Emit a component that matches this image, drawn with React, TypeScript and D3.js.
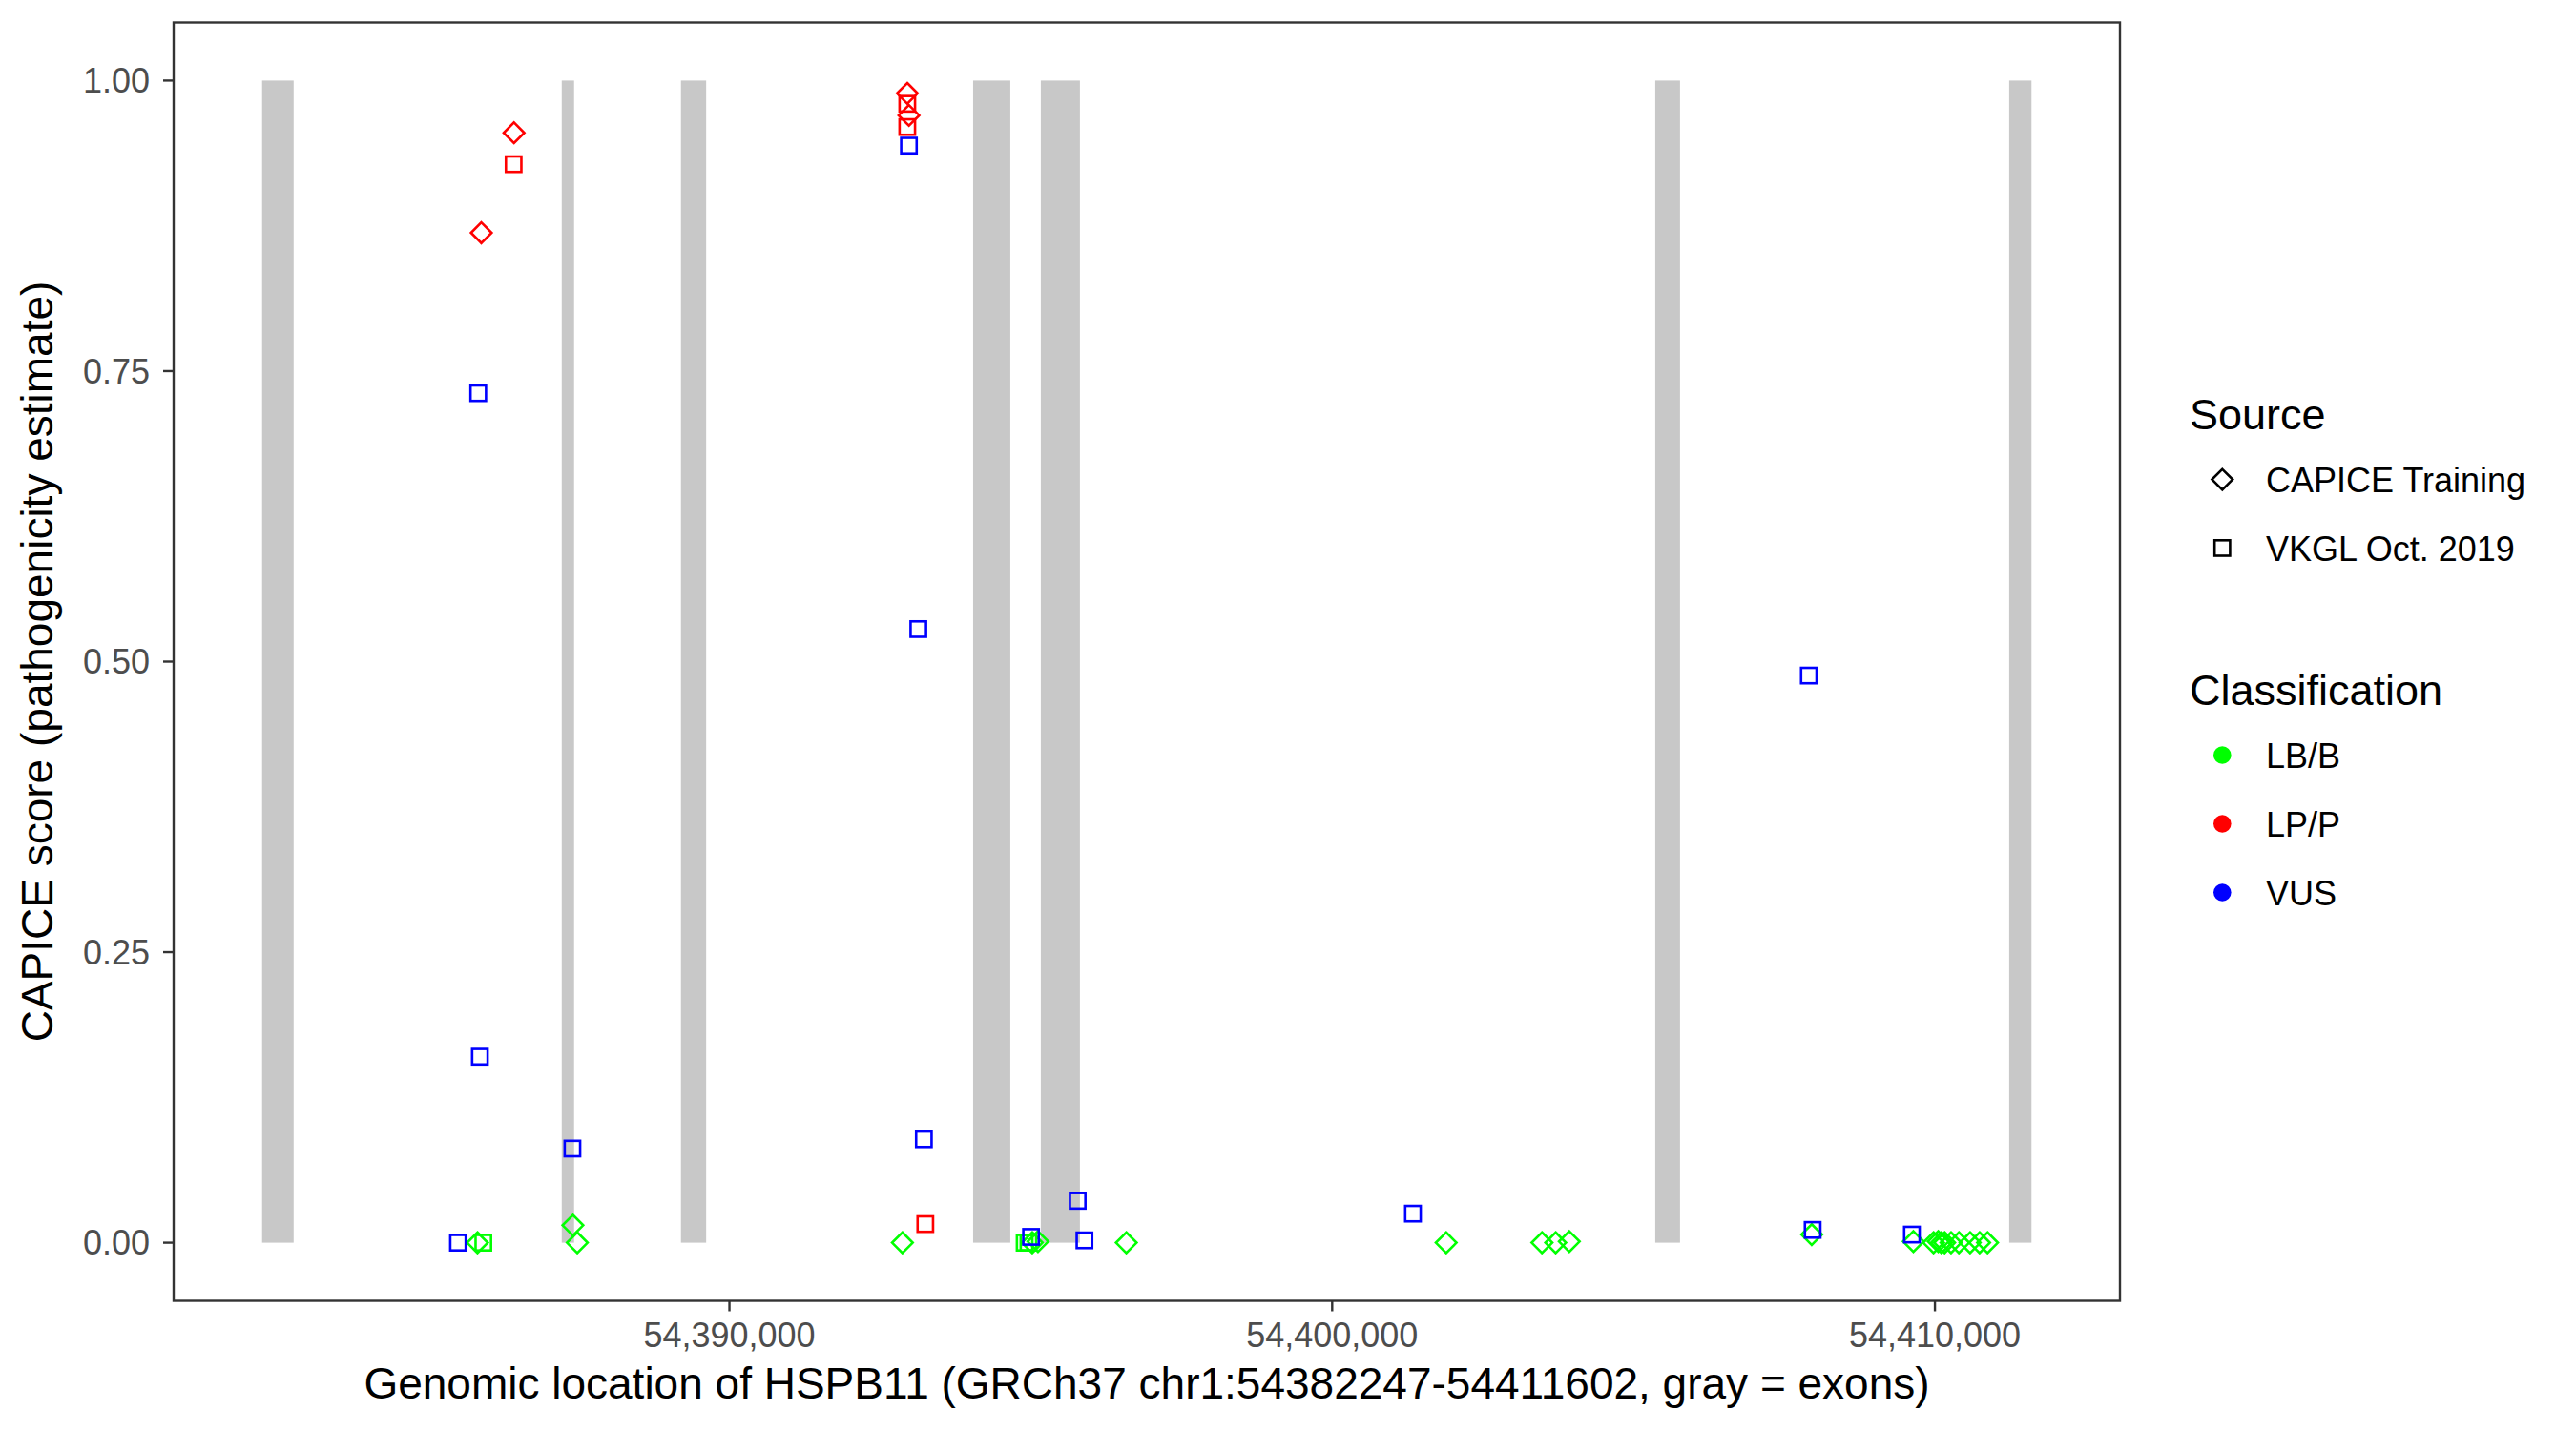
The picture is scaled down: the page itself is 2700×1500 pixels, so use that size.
import React from "react";
import * as d3 from "d3";

// Gene / exon data (GRCh37 chr1)
const geneStart = 54382247;
const geneEnd = 54411602;
const exonStart = [54382247, 54387218, 54389196, 54394043, 54395166, 54405360, 54411232];
const exonEnd = [54382770, 54387423, 54389614, 54394660, 54395815, 54405771, 54411602];

// Variants: position, CAPICE score, source, classification
const varPos = [
  54385820, 54385917, 54387403, 54387476, 54392870, 54394898, 54394961, 54395024, 54395119,
  54396585, 54401891, 54403481, 54403708, 54403934, 54407956, 54409643,
  54409977, 54410056, 54410108, 54410161, 54410267, 54410398, 54410583, 54410741, 54410873,
  54386426, 54386420, 54385884, 54392951, 54392951, 54392978, 54392951, 54393250,
  54385833, 54385860, 54385497, 54387395, 54392978, 54393134, 54393226, 54395004,
  54395778, 54395890, 54401340, 54407908, 54407971, 54409618,
];
const varScore = [
  0.0, 0.0, 0.015, 0.0, 0.0, 0.0, 0.0, 0.0, 0.001,
  0.0, 0.0, 0.0, 0.0, 0.001, 0.007, 0.001,
  0.0, 0.001, 0.0, 0.0, 0.0, 0.0, 0.0, 0.0, 0.0,
  0.955, 0.928, 0.869, 0.989, 0.98, 0.97, 0.96, 0.016,
  0.731, 0.16, 0.0, 0.081, 0.944, 0.528, 0.089, 0.005,
  0.036, 0.002, 0.025, 0.488, 0.011, 0.007,
];
const varSource = [
  "C", "V", "C", "C", "C", "V", "V", "C", "C",
  "C", "C", "C", "C", "C", "C", "C",
  "C", "C", "C", "C", "C", "C", "C", "C", "C",
  "C", "V", "C", "C", "V", "C", "V", "V",
  "V", "V", "V", "V", "V", "V", "V", "V",
  "V", "V", "V", "V", "V", "V",
];
const varClass = [
  "LB/B", "LB/B", "LB/B", "LB/B", "LB/B", "LB/B", "LB/B", "LB/B", "LB/B",
  "LB/B", "LB/B", "LB/B", "LB/B", "LB/B", "LB/B", "LB/B",
  "LB/B", "LB/B", "LB/B", "LB/B", "LB/B", "LB/B", "LB/B", "LB/B", "LB/B",
  "LP/P", "LP/P", "LP/P", "LP/P", "LP/P", "LP/P", "LP/P", "LP/P",
  "VUS", "VUS", "VUS", "VUS", "VUS", "VUS", "VUS", "VUS",
  "VUS", "VUS", "VUS", "VUS", "VUS", "VUS",
];

const xTicks = [54390000, 54400000, 54410000];
const yTicks = [0, 0.25, 0.5, 0.75, 1.0];
const sourceLabels = ["CAPICE Training", "VKGL Oct. 2019"];
const classLabels = ["LB/B", "LP/P", "VUS"];
const classColors = ["#00FF00", "#FF0000", "#0000FF"];

const FONT = "'Liberation Sans', Arial, Helvetica, sans-serif";

const panel = { left: 182, right: 2222, top: 23.5, bottom: 1363.5 };

const diamondPath = (r: number) => `M0,${-r}L${r},0L0,${r}L${-r},0Z`;

function Shape({ src, color, x, y }: { src: string; color: string; x: number; y: number }) {
  if (src === "C") {
    return (
      <path
        d={diamondPath(10.8)}
        transform={`translate(${x},${y})`}
        fill="none"
        stroke={color}
        strokeWidth={2.6}
        strokeLinejoin="miter"
      />
    );
  }
  const s = 16.2;
  return (
    <rect x={x - s / 2} y={y - s / 2} width={s} height={s} fill="none" stroke={color} strokeWidth={2.6} />
  );
}

export default function App() {
  const pad = 0.05 * (geneEnd - geneStart);
  const x = d3.scaleLinear().domain([geneStart - pad, geneEnd + pad]).range([panel.left, panel.right]);
  const y = d3.scaleLinear().domain([-0.05, 1.05]).range([panel.bottom, panel.top]);
  const color = d3.scaleOrdinal<string, string>().domain(classLabels).range(classColors);
  const fmtX = d3.format(",");
  const fmtY = d3.format(".2f");
  const axisCol = "#333333";
  const tickTextCol = "#4D4D4D";

  return (
    <svg
      width={2700}
      height={1500}
      style={{ position: "absolute", left: 0, top: 0, background: "#fff" }}
      fontFamily={FONT}
    >
      <rect x={0} y={0} width={2700} height={1500} fill="#fff" />
      {/* exons */}
      {exonStart.map((s, i) => (
        <rect
          key={"ex" + i}
          x={x(s)}
          width={x(exonEnd[i]) - x(s)}
          y={y(1)}
          height={y(0) - y(1)}
          fill="#C8C8C8"
        />
      ))}
      {/* points */}
      {varPos.map((p, i) => (
        <Shape key={"pt" + i} src={varSource[i]} color={color(varClass[i])} x={x(p)} y={y(varScore[i])} />
      ))}
      {/* panel border */}
      <rect
        x={panel.left}
        y={panel.top}
        width={panel.right - panel.left}
        height={panel.bottom - panel.top}
        fill="none"
        stroke={axisCol}
        strokeWidth={2.4}
      />
      {/* y axis */}
      {yTicks.map((t) => (
        <g key={"yt" + t}>
          <line x1={panel.left - 11} x2={panel.left} y1={y(t)} y2={y(t)} stroke={axisCol} strokeWidth={2.4} />
          <text x={157} y={y(t) + 12.8} textAnchor="end" fontSize={36} fill={tickTextCol}>
            {fmtY(t)}
          </text>
        </g>
      ))}
      {/* x axis */}
      {xTicks.map((t) => (
        <g key={"xt" + t}>
          <line x1={x(t)} x2={x(t)} y1={panel.bottom} y2={panel.bottom + 11} stroke={axisCol} strokeWidth={2.4} />
          <text x={x(t)} y={1412} textAnchor="middle" fontSize={36} fill={tickTextCol}>
            {fmtX(t)}
          </text>
        </g>
      ))}
      <text x={(panel.left + panel.right) / 2} y={1466} textAnchor="middle" fontSize={46} fill="#000">
        Genomic location of HSPB11 (GRCh37 chr1:54382247-54411602, gray = exons)
      </text>
      <text
        transform={`translate(55,${(panel.top + panel.bottom) / 2}) rotate(-90)`}
        textAnchor="middle"
        fontSize={46}
        fill="#000"
      >
        CAPICE score (pathogenicity estimate)
      </text>
      {/* legend: Source */}
      <text x={2295} y={449.5} fontSize={45} fill="#000">
        Source
      </text>
      {sourceLabels.map((lab, i) => {
        const cy = 502.6 + i * 71.8;
        return (
          <g key={"sl" + i}>
            <Shape src={i === 0 ? "C" : "V"} color="#000" x={2329.3} y={cy} />
            <text x={2375} y={cy + 13.5} fontSize={36} fill="#000">
              {lab}
            </text>
          </g>
        );
      })}
      {/* legend: Classification */}
      <text x={2295} y={738.5} fontSize={45} fill="#000">
        Classification
      </text>
      {classLabels.map((lab, i) => {
        const cy = 791.5 + i * 72;
        return (
          <g key={"cl" + i}>
            <circle cx={2329.3} cy={cy} r={9.3} fill={classColors[i]} />
            <text x={2375} y={cy + 13.5} fontSize={36} fill="#000">
              {lab}
            </text>
          </g>
        );
      })}
    </svg>
  );
}
